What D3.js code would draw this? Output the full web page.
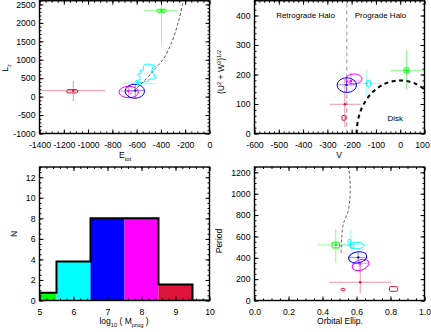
<!DOCTYPE html>
<html>
<head>
<meta charset="utf-8">
<script src="https://cdn.jsdelivr.net/npm/d3@7"></script>
<style>
  body { margin: 0; background: #fff; }
  svg { display: block; font-family: "Liberation Sans", Arial, sans-serif; }
</style>
</head>
<body>
<svg id="chart" width="431" height="332"></svg>
<script>
// ---- panel 1 : E_tot vs L_z ----
const p1XTicks = [-1400, -1200, -1000, -800, -600, -400, -200, 0];
const p1YTicks = [-1000, -500, 0, 500, 1000, 1500, 2000, 2500];
const p1Track = [[-655, 60], [-612, 190], [-557, 365], [-502, 545], [-447, 760], [-380, 1020],
  [-315, 1440], [-262, 1960], [-222, 2500], [-215, 2600]];
const p1Cyan = [[-530, 880], [-500, 880], [-500, 860], [-455, 860], [-455, 800], [-475, 790],
  [-460, 730], [-480, 700], [-470, 640], [-455, 610], [-455, 540], [-435, 520], [-450, 480],
  [-500, 470], [-510, 410], [-550, 390], [-600, 380], [-610, 420], [-580, 450], [-565, 500],
  [-585, 560], [-590, 610], [-560, 640], [-575, 700], [-545, 730], [-545, 810], [-530, 880]];
const p1Cross = [
  { c: 'green', x: -395, y: 2330, x0: -540, x1: -265, y0: 1380, y1: 2700 },
  { c: 'red', x: -1122, y: 160, x0: -1380, x1: -860, y0: -120, y1: 430 },
  { c: 'cyan', x: -590, y: 350, x0: -720, x1: -445, y0: 250, y1: 440 },
  { c: 'magenta', x: -667, y: 150, x0: -745, x1: -590, y0: 0, y1: 290 },
  { c: 'blue', x: -612, y: 163, x0: -690, x1: -535, y0: -40, y1: 330 }
];
const p1Ellipses = [
  { c: 'magenta', x: -665, y: 125, rx: 80, ry: 155, a: 0 },
  { c: 'blue', x: -615, y: 145, rx: 80, ry: 190, a: 0 }
];
const p1Boxes = [
  { c: 'green', x: -395, y: 2330, dx: 38, dy: 40 },
  { c: 'red', x: -1131, y: 145, dx: 44, dy: 45 }
];

// ---- panel 2 : V vs sqrt(U^2+W^2) ----
const p2XTicks = [-600, -500, -400, -300, -200, -100, 0, 100];
const p2YTicks = [0, 100, 200, 300, 400];
const p2Disk = [[-180, 0], [-175, 40], [-165, 72], [-150, 100], [-120, 135], [-90, 156], [-60, 170],
  [-30, 177], [0, 180], [30, 177], [60, 170], [100, 150]];
const p2Split = -220;
const p2Cross = [
  { c: 'green', x: 26, y: 214, x0: -40, x1: 97, y0: 148, y1: 282 },
  { c: 'cyan', x: -140, y: 170, x0: -182, x1: -82, y0: 128, y1: 216 },
  { c: 'red', x: -228, y: 99, x0: -290, x1: -163, y0: 22, y1: 185 },
  { c: 'magenta', x: -203, y: 178, x0: -228, x1: -160, y0: 160, y1: 205 },
  { c: 'blue', x: -221, y: 165, x0: -258, x1: -182, y0: 138, y1: 192 }
];
const p2Ellipses = [
  { c: 'magenta', x: -190, y: 185, rx: 33, ry: 17, a: 0 },
  { c: 'blue', x: -220, y: 164, rx: 40, ry: 25, a: 0 }
];
const p2Boxes = [
  { c: 'green', x: 26, y: 214, dx: 10, dy: 9 },
  { c: 'cyan', x: -130, y: 170, dx: 8, dy: 10 },
  { c: 'red', x: -232, y: 53, dx: 8, dy: 8 }
];
const p2Notes = [['Retrograde Halo', -390, 400], ['Prograde Halo', -81, 400], ['Disk', -20, 52]];

// ---- panel 3 : progenitor mass histogram ----
const p3Edges = [5, 5.5, 6.5, 7.5, 8.5, 9.5];
const p3Counts = [0.75, 3.8, 8, 8, 1.55];
const p3Groups = ['green', 'cyan', 'blue', 'magenta', 'red'];
const p3XTicks = [5, 6, 7, 8, 9, 10];
const p3YTicks = [0, 2, 4, 6, 8, 10, 12];

// ---- panel 4 : ellipticity vs period ----
const p4XTicks = [0, 0.2, 0.4, 0.6, 0.8, 1.0];
const p4YTicks = [0, 200, 400, 600, 800, 1000, 1200];
const p4Track = [[0.51, 449], [0.511, 540], [0.514, 606], [0.518, 684], [0.529, 747], [0.549, 825],
  [0.561, 951], [0.563, 1080], [0.56, 1160], [0.553, 1260]];
const p4Cross = [
  { c: 'green', x: 0.478, y: 520, x0: 0.37, x1: 0.575, y0: 350, y1: 665 },
  { c: 'cyan', x: 0.567, y: 520, x0: 0.515, x1: 0.67, y0: 465, y1: 660 },
  { c: 'red', x: 0.622, y: 171, x0: 0.441, x1: 0.802, y0: 65, y1: 355 },
  { c: 'magenta', x: 0.62, y: 345, x0: 0.575, x1: 0.67, y0: 300, y1: 380 },
  { c: 'blue', x: 0.61, y: 404, x0: 0.555, x1: 0.665, y0: 350, y1: 460 }
];
const p4Ellipses = [
  { c: 'cyan', x: 0.6, y: 515, rx: 0.045, ry: 30, a: 0 },
  { c: 'magenta', x: 0.624, y: 333, rx: 0.051, ry: 48, a: -20 },
  { c: 'blue', x: 0.607, y: 404, rx: 0.054, ry: 52, a: -10 },
  { c: 'red', x: 0.52, y: 102, rx: 0.013, ry: 12, a: 0 }
];
const p4Boxes = [
  { c: 'green', x: 0.478, y: 519, dx: 0.022, dy: 27 },
  { c: 'cyan', x: 0.558, y: 555, dx: 0.008, dy: 18 },
  { c: 'cyan', x: 0.574, y: 512, dx: 0.01, dy: 18 },
  { c: 'red', x: 0.818, y: 108, dx: 0.024, dy: 22 }
];

const colour = { green: '#00ff00', cyan: '#00ffff', blue: '#0000ff', magenta: '#ff00ff', red: '#dc143c' };

const svg = d3.select('#chart');

function makePanel(id, box, xDom, yDom) {
  const x = d3.scaleLinear().domain(xDom).range([box.l, box.r]);
  const y = d3.scaleLinear().domain(yDom).range([box.b, box.t]);
  svg.append('clipPath').attr('id', id).append('rect')
    .attr('x', box.l).attr('y', box.t)
    .attr('width', box.r - box.l).attr('height', box.b - box.t);
  const g = svg.append('g').attr('clip-path', 'url(#' + id + ')');
  return { x, y, g, box };
}

// IDL-style box: inward major and minor ticks on all four sides
function frame(p, xMaj, xStep, yMaj, yStep, xFmt, yFmt) {
  const { x, y, box } = p;
  const xMin = d3.range(x.domain()[0], x.domain()[1] + 1e-9, xStep);
  const yMin = d3.range(y.domain()[0], y.domain()[1] + 1e-9, yStep);
  const add = (axis, tx, ty) => svg.append('g')
    .attr('transform', 'translate(' + tx + ',' + ty + ')')
    .call(axis)
    .call(g => g.select('.domain').remove())
    .attr('font-size', 8.7).attr('font-family', null);
  add(d3.axisBottom(x).tickValues(xMin).tickSize(-2).tickFormat(''), 0, box.b);
  add(d3.axisTop(x).tickValues(xMin).tickSize(-2).tickFormat(''), 0, box.t);
  add(d3.axisLeft(y).tickValues(yMin).tickSize(-2).tickFormat(''), box.l, 0);
  add(d3.axisRight(y).tickValues(yMin).tickSize(-2).tickFormat(''), box.r, 0);
  const bottom = add(d3.axisBottom(x).tickValues(xMaj).tickSize(-4).tickPadding(8.5).tickFormat(xFmt), 0, box.b);
  add(d3.axisTop(x).tickValues(xMaj).tickSize(-4).tickFormat(''), 0, box.t);
  add(d3.axisLeft(y).tickValues(yMaj).tickSize(-4).tickPadding(4).tickFormat(yFmt), box.l, 0);
  add(d3.axisRight(y).tickValues(yMaj).tickSize(-4).tickFormat(''), box.r, 0);
  svg.append('rect')
    .attr('x', box.l).attr('y', box.t)
    .attr('width', box.r - box.l).attr('height', box.b - box.t)
    .attr('fill', 'none').attr('stroke', '#000').attr('stroke-width', 1.4);
  return bottom;
}

// text with sub / superscripts
function label(px, py, parts, rotate) {
  const size = 8.5;
  const t = svg.append('text')
    .attr('transform', 'translate(' + px + ',' + py + ')' + (rotate ? ' rotate(-90)' : ''))
    .attr('text-anchor', 'middle').attr('font-size', size);
  let shift = 0;
  parts.forEach(([s, k]) => {
    const want = k === 'sub' ? size * 0.3 : k === 'sup' ? -size * 0.4 : 0;
    t.append('tspan').text(s)
      .attr('dy', want - shift)
      .attr('font-size', k ? size * 0.68 : size);
    shift = want;
  });
}

function crosses(p, list) {
  list.forEach(d => {
    p.g.append('line').attr('x1', p.x(d.x0)).attr('x2', p.x(d.x1)).attr('y1', p.y(d.y)).attr('y2', p.y(d.y))
      .attr('stroke', colour[d.c]).attr('stroke-opacity', 0.45);
    p.g.append('line').attr('x1', p.x(d.x)).attr('x2', p.x(d.x)).attr('y1', p.y(d.y0)).attr('y2', p.y(d.y1))
      .attr('stroke', colour[d.c]).attr('stroke-opacity', 0.45);
  });
}

function dots(p, list) {
  list.forEach(d => {
    p.g.append('circle').attr('cx', p.x(d.x)).attr('cy', p.y(d.y)).attr('r', 1.2)
      .attr('fill', colour[d.c]);
  });
}

function ellipses(p, list) {
  list.forEach(d => {
    const cx = p.x(d.x), cy = p.y(d.y);
    p.g.append('ellipse')
      .attr('cx', cx).attr('cy', cy)
      .attr('rx', Math.abs(p.x(d.x + d.rx) - cx))
      .attr('ry', Math.abs(p.y(d.y + d.ry) - cy))
      .attr('transform', 'rotate(' + d.a + ',' + cx + ',' + cy + ')')
      .attr('fill', 'none').attr('stroke', colour[d.c]).attr('stroke-width', 1);
  });
}

function boxes(p, list) {
  list.forEach(d => {
    const x0 = p.x(d.x - d.dx), x1 = p.x(d.x + d.dx);
    const y0 = p.y(d.y + d.dy), y1 = p.y(d.y - d.dy);
    p.g.append('rect').attr('x', x0).attr('y', y0)
      .attr('width', x1 - x0).attr('height', y1 - y0).attr('rx', 1)
      .attr('fill', 'none').attr('stroke', colour[d.c]).attr('stroke-width', 1);
  });
}

const fmt = d => String(d);

// ---------- panel 1 ----------
const P1 = makePanel('c1', { l: 39.5, r: 209.5, t: 0.75, b: 133.5 }, [-1400, 0], [-1000, 2600]);
crosses(P1, p1Cross);
P1.g.append('path')
  .datum(p1Cyan)
  .attr('d', d3.line().x(d => P1.x(d[0])).y(d => P1.y(d[1])))
  .attr('fill', 'none').attr('stroke', colour.cyan).attr('stroke-width', 1);
ellipses(P1, p1Ellipses);
boxes(P1, p1Boxes);
dots(P1, p1Cross);
P1.g.append('path')
  .datum(p1Track)
  .attr('d', d3.line().x(d => P1.x(d[0])).y(d => P1.y(d[1])).curve(d3.curveCatmullRom))
  .attr('fill', 'none').attr('stroke', '#555').attr('stroke-width', 1)
  .attr('stroke-dasharray', '3,2');
frame(P1, p1XTicks, 50, p1YTicks, 100, fmt, fmt);
label(125, 158, [['E'], ['tot', 'sub']]);
label(8, 68, [['L'], ['z', 'sub']], true);

// ---------- panel 2 ----------
const P2 = makePanel('c2', { l: 254.5, r: 424.5, t: 0.75, b: 133.5 }, [-600, 100], [0, 450]);
P2.g.append('line')
  .attr('x1', P2.x(p2Split)).attr('x2', P2.x(p2Split))
  .attr('y1', P2.y(0)).attr('y2', P2.y(450))
  .attr('stroke', '#999').attr('stroke-width', 1).attr('stroke-dasharray', '4,3');
crosses(P2, p2Cross);
ellipses(P2, p2Ellipses);
boxes(P2, p2Boxes);
dots(P2, p2Cross);
P2.g.append('path')
  .datum(p2Disk)
  .attr('d', d3.line().x(d => P2.x(d[0])).y(d => P2.y(d[1])).curve(d3.curveCatmullRom))
  .attr('fill', 'none').attr('stroke', '#000').attr('stroke-width', 2)
  .attr('stroke-dasharray', '4,3.5');
P2.g.selectAll('text.note')
  .data(p2Notes)
  .join('text')
  .attr('class', 'note')
  .attr('x', d => P2.x(d[1])).attr('y', d => P2.y(d[2]))
  .attr('dy', '0.35em').attr('text-anchor', 'middle').attr('font-size', 8)
  .text(d => d[0]);
frame(P2, p2XTicks, 20, p2YTicks, 20, fmt, fmt)
  .selectAll('text').filter(d => d === 100)
  .attr('dx', -2.5);   // keep the last label inside the window
label(339, 158, [['V']]);
label(224, 72, [['(U'], ['2', 'sup'], [' + W'], ['2', 'sup'], [')'], ['1/2', 'sup']], true);

// ---------- panel 3 ----------
const P3 = makePanel('c3', { l: 39.5, r: 209.5, t: 167, b: 300.5 }, [5, 10], [0, 13]);
P3.g.selectAll('rect.bar')
  .data(p3Counts)
  .join('rect')
  .attr('class', 'bar')
  .attr('x', (d, i) => P3.x(p3Edges[i]))
  .attr('width', (d, i) => P3.x(i + 1 < p3Edges.length ? p3Edges[i + 1] : 10) - P3.x(p3Edges[i]))
  .attr('y', d => P3.y(d))
  .attr('height', d => P3.y(0) - P3.y(d))
  .attr('fill', (d, i) => colour[p3Groups[i]]);
const outline = [[5, 0]].concat(p3Edges.map((e, i) => [e, i < p3Counts.length ? p3Counts[i] : 0]), [[10, 0]]);
P3.g.append('path')
  .datum(outline)
  .attr('d', d3.line().x(d => P3.x(d[0])).y(d => P3.y(d[1])).curve(d3.curveStepAfter))
  .attr('fill', 'none').attr('stroke', '#000').attr('stroke-width', 2);
frame(P3, p3XTicks, 0.2, p3YTicks, 0.5, fmt, fmt);
label(124, 324, [['log'], ['10', 'sub'], [' ( M'], ['prog', 'sub'], [' )']]);
label(17, 234, [['N']], true);

// ---------- panel 4 ----------
const P4 = makePanel('c4', { l: 254.5, r: 424.5, t: 167, b: 300.5 }, [0, 1], [0, 1250]);
crosses(P4, p4Cross);
ellipses(P4, p4Ellipses);
boxes(P4, p4Boxes);
dots(P4, p4Cross);
P4.g.append('path')
  .datum(p4Track)
  .attr('d', d3.line().x(d => P4.x(d[0])).y(d => P4.y(d[1])).curve(d3.curveCatmullRom))
  .attr('fill', 'none').attr('stroke', '#666').attr('stroke-width', 1)
  .attr('stroke-dasharray', '3,2');
frame(P4, p4XTicks, 0.05, p4YTicks, 50, d3.format('.1f'), fmt);
label(340, 324, [['Orbital Ellip.']]);
label(222, 241, [['Period']], true);
</script>
</body>
</html>
